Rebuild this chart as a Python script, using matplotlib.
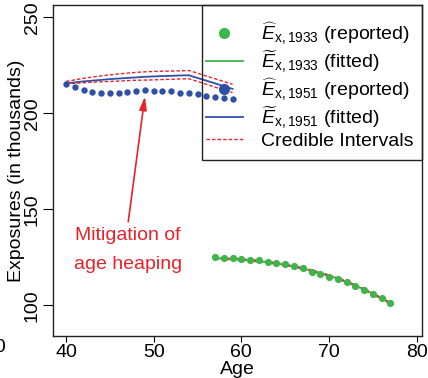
import matplotlib
matplotlib.use("Agg")
import matplotlib.pyplot as plt
from matplotlib.lines import Line2D
from matplotlib.patches import Rectangle

plt.rcParams['font.family'] = ['Liberation Sans', 'DejaVu Sans']
plt.rcParams['mathtext.fontset'] = 'custom'
plt.rcParams['mathtext.rm'] = 'Liberation Sans'
plt.rcParams['mathtext.it'] = 'Liberation Sans:italic'

# ---- data ----
ages_1951 = list(range(40, 60))
reported_1951 = [215.1, 213.5, 212.3, 211.25, 210.4, 210.7, 210.7, 211.25, 211.5, 212.0,
                 211.5, 211.5, 211.5, 210.7, 210.7, 210.2, 209.2, 208.6, 207.8, 207.3]
fitted_1951 = [215.6, 216.1, 216.6, 217.0, 217.4, 217.8, 218.1, 218.4, 218.7, 219.0,
               219.2, 219.4, 219.5, 219.7, 219.8, 218.4, 217.0, 215.6, 214.1, 212.7]
upper_1951 = [216.6, 217.4, 218.2, 218.9, 219.5, 220.0, 220.5, 220.9, 221.3, 221.6,
              221.8, 221.9, 222.0, 222.1, 222.3, 220.9, 219.4, 218.0, 216.5, 215.1]
lower_1951 = [215.2, 215.6, 215.9, 216.2, 216.4, 216.6, 216.8, 217.0, 217.2, 217.3,
              217.4, 217.6, 217.7, 217.9, 218.0, 216.6, 215.1, 213.6, 212.2, 210.8]

ages_1933 = list(range(57, 78))
reported_1933 = [125.0, 124.5, 124.5, 124.3, 123.8, 123.8, 122.7, 121.9, 121.4, 120.3,
                 119.3, 117.5, 116.5, 114.9, 113.5, 112.0, 109.9, 107.8, 105.7, 103.6, 101.0]
fitted_1933 = [124.5, 124.3, 124.1, 123.8, 123.5, 123.0, 122.4, 121.8, 121.1, 120.2,
               119.2, 118.0, 116.8, 115.4, 113.9, 112.2, 110.3, 108.2, 106.0, 103.6, 101.0]
upper_1933 = [124.9, 124.7, 124.5, 124.2, 123.9, 123.4, 122.8, 122.2, 121.5, 120.6,
              119.6, 118.4, 117.2, 115.8, 114.3, 112.6, 110.7, 108.6, 106.4, 104.0, 101.4]
lower_1933 = [124.1, 123.9, 123.7, 123.4, 123.1, 122.6, 122.0, 121.4, 120.7, 119.8,
              118.8, 117.6, 116.4, 115.0, 113.5, 111.8, 109.9, 107.8, 105.6, 103.2, 100.6]

x_ticks = [40, 50, 60, 70, 80]
y_ticks = [100, 150, 200, 250]
legend_labels = [r'$\widehat{E}_{\mathrm{x,1933}}$ (reported)',
                 r'$\widetilde{E}_{\mathrm{x,1933}}$ (fitted)',
                 r'$\widehat{E}_{\mathrm{x,1951}}$ (reported)',
                 r'$\widetilde{E}_{\mathrm{x,1951}}$ (fitted)',
                 'Credible Intervals']
annotation_text = 'Mitigation of\nage heaping'

BLUE = '#3050A8'
GREEN = '#3CB54A'
RED = '#E8222A'
DASH = (0, (2.5, 1.5))

fig = plt.figure(figsize=(4.28, 3.78), dpi=100)
ax = fig.add_axes([53/428, 1-336/378, (422-53)/428, (336-5)/378])

ax.plot(ages_1951, fitted_1951, color=BLUE, lw=1.3, zorder=2)
ax.plot(ages_1951, upper_1951, color=RED, lw=1.0, ls=DASH, zorder=3)
ax.plot(ages_1951, lower_1951, color=RED, lw=1.0, ls=DASH, zorder=3)
ax.plot(ages_1951, reported_1951, 'o', color=BLUE, ms=4.6, mew=0, zorder=4)

ax.plot(ages_1933, fitted_1933, color=GREEN, lw=1.3, zorder=2)
ax.plot(ages_1933, upper_1933, color=RED, lw=1.0, ls=DASH, zorder=3, alpha=0.8)
ax.plot(ages_1933, lower_1933, color=RED, lw=1.0, ls=DASH, zorder=3, alpha=0.8)
ax.plot(ages_1933, reported_1933, 'o', color=GREEN, ms=5.2, mew=0, zorder=4)

ax.set_xlim(38.52, 80.6)
ax.set_ylim(84.0, 256.4)
ax.set_xticks(x_ticks)
ax.set_yticks(y_ticks)
ax.set_xticklabels([str(t) for t in x_ticks], fontsize=14)
ax.set_yticklabels([str(t) for t in y_ticks], fontsize=14, rotation=90, va='center')
ax.tick_params(axis='x', length=4, pad=2, width=0.8)
ax.tick_params(axis='y', length=7, pad=2, width=0.8)
for s in ax.spines.values():
    s.set_linewidth(1.0)
    s.set_color('#222222')

ax.set_xlabel('Age', fontsize=14)
ax.xaxis.set_label_coords(0.5, -0.0755)
ax.set_ylabel('Exposures (in thousands)', fontsize=14)
ax.yaxis.set_label_coords(-0.0759, 0.5)

ax.annotate('', xy=(49.0, 208.8), xytext=(47.1, 143.5),
            arrowprops=dict(arrowstyle='-|>,head_length=0.8,head_width=0.22',
                            color=RED, lw=1.2, shrinkA=0, shrinkB=0))
ax.text(47.1, 128.8, annotation_text, color=RED, fontsize=14, ha='center', va='center',
        linespacing=1.9)

handles = [Line2D([], [], marker='o', ls='none', color=GREEN, ms=8, mew=0),
           Line2D([], [], color=GREEN, lw=1.3),
           Line2D([], [], marker='o', ls='none', color=BLUE, ms=8, mew=0),
           Line2D([], [], color=BLUE, lw=1.3),
           Line2D([], [], color=RED, lw=1.0, ls=DASH)]
leg = ax.legend(handles, legend_labels, loc='upper left',
                bbox_to_anchor=((206-53)/369, (336-20)/331),
                fontsize=14, frameon=False, handlelength=1.9, handletextpad=0.95,
                borderpad=0, labelspacing=0.08, borderaxespad=0)
ax.add_patch(Rectangle(((202-53)/369, (336-160)/331), 1-(202-53)/369, 155/331,
                       transform=ax.transAxes, fill=False, lw=1.0, ec='#222222',
                       clip_on=False, zorder=5))

fig.text(-0.012, 1-347/378, '80', fontsize=14, ha='center', va='center')

fig.savefig('out.png', dpi=100)
